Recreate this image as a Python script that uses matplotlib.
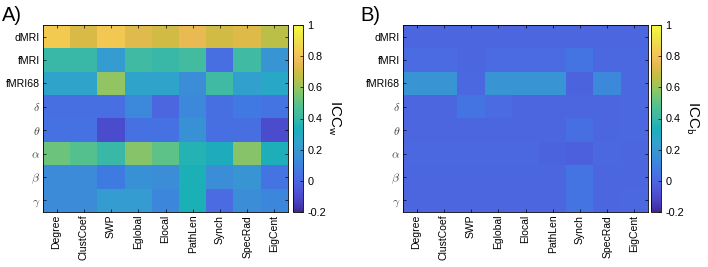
import numpy as np
import matplotlib
matplotlib.use("Agg")
import matplotlib.pyplot as plt
from matplotlib.colors import LinearSegmentedColormap

plt.rcParams['font.family'] = ['Liberation Sans', 'DejaVu Sans']
plt.rcParams['mathtext.fontset'] = 'cm'

measures = ["Degree", "ClustCoef", "SWP", "Eglobal", "Elocal", "PathLen", "Synch", "SpecRad", "EigCent"]
modalities = ["dMRI", "fMRI", "fMRI68", r"$\delta$", r"$\theta$", r"$\alpha$", r"$\beta$", r"$\gamma$"]

icc_w = np.array([
    [0.83, 0.72, 0.82, 0.74, 0.70, 0.76, 0.70, 0.73, 0.66],
    [0.40, 0.40, 0.22, 0.42, 0.40, 0.43, 0.03, 0.42, 0.18],
    [0.25, 0.25, 0.59, 0.25, 0.25, 0.15, 0.42, 0.24, 0.28],
    [0.03, 0.03, 0.03, 0.13, 0.00, 0.13, 0.03, 0.07, 0.05],
    [0.04, 0.04, -0.10, 0.04, 0.04, 0.17, 0.03, 0.03, -0.10],
    [0.53, 0.48, 0.40, 0.57, 0.50, 0.36, 0.32, 0.57, 0.33],
    [0.14, 0.14, 0.08, 0.17, 0.15, 0.34, 0.15, 0.18, 0.05],
    [0.14, 0.14, 0.22, 0.22, 0.12, 0.34, 0.02, 0.15, 0.12],
])

icc_b = np.array([
    [0.00, 0.00, 0.00, 0.00, 0.00, 0.00, 0.00, 0.00, 0.00],
    [0.02, 0.02, 0.00, 0.02, 0.02, 0.02, 0.05, 0.01, 0.01],
    [0.18, 0.18, 0.01, 0.18, 0.18, 0.18, -0.01, 0.13, 0.01],
    [0.00, 0.00, 0.05, 0.02, 0.00, 0.00, 0.00, 0.00, 0.01],
    [0.00, 0.00, 0.00, 0.00, 0.00, 0.00, 0.03, 0.00, 0.01],
    [0.01, 0.01, 0.01, 0.01, 0.01, -0.01, -0.02, 0.01, 0.00],
    [0.00, 0.00, 0.00, 0.00, 0.00, 0.00, 0.05, 0.00, 0.00],
    [0.00, 0.00, 0.00, 0.00, 0.00, 0.00, 0.05, 0.00, 0.01],
])

cbar_ticks = [-0.2, 0, 0.2, 0.4, 0.6, 0.8, 1]
cbar_ticklabels = ["-0.2", "0", "0.2", "0.4", "0.6", "0.8", "1"]

# parula (R2017a) colormap anchors, slightly desaturated to match the print
parula_anchors = np.array([
    (0.2422, 0.1504, 0.6603), (0.2647, 0.1978, 0.7952), (0.2783, 0.2559, 0.8991),
    (0.2813, 0.3006, 0.9414), (0.2795, 0.3447, 0.9717), (0.2699, 0.3892, 0.9906),
    (0.2440, 0.4358, 0.9988), (0.1963, 0.4847, 0.9892), (0.1786, 0.5289, 0.9682),
    (0.1687, 0.5703, 0.9359), (0.1460, 0.6091, 0.9079), (0.1248, 0.6459, 0.8883),
    (0.0952, 0.6798, 0.8598), (0.0297, 0.7082, 0.8163), (0.0067, 0.7312, 0.7660),
    (0.0964, 0.7500, 0.7120), (0.1717, 0.7670, 0.6554), (0.2161, 0.7843, 0.5923),
    (0.2906, 0.7973, 0.5188), (0.3909, 0.8029, 0.4354), (0.5044, 0.7993, 0.3480),
    (0.6174, 0.7876, 0.2612), (0.7242, 0.7698, 0.1910), (0.8203, 0.7498, 0.1535),
    (0.9035, 0.7330, 0.1774), (0.9728, 0.7298, 0.2394), (0.9970, 0.7659, 0.2199),
    (0.9892, 0.8136, 0.1885), (0.9676, 0.8639, 0.1643), (0.9597, 0.9135, 0.1423),
    (0.9691, 0.9606, 0.1064), (0.9769, 0.9839, 0.0805),
])
lum = (parula_anchors @ np.array([0.299, 0.587, 0.114]))[:, None]
desat = 0.2
parula_cols = np.clip(parula_anchors * (1 - desat) + lum * desat, 0, 1)
parula = LinearSegmentedColormap.from_list("parula", parula_cols, N=256)

W, H = 708, 267
fig = plt.figure(figsize=(W / 100, H / 100), dpi=100)

def fx(px):
    return px / W

def fy(py):
    return 1 - py / H

panels = [
    (icc_w, "A)", r"ICC$_\mathsf{w}$", 43, 293, 2),
    (icc_b, "B)", r"ICC$_\mathsf{b}$", 403, 651, 360),
]

for data, tag, clabel, axl, cbl, tagx in panels:
    ax = fig.add_axes([fx(axl), fy(212), fx(245), (212 - 25) / H])
    im = ax.imshow(data, cmap=parula, vmin=-0.2, vmax=1, aspect='auto', interpolation='nearest')
    ax.set_xticks(np.arange(len(measures)))
    ax.set_xticklabels(measures, rotation=90, fontsize=7.5)
    ax.set_yticks(np.arange(len(modalities)))
    ax.set_yticklabels(modalities, fontsize=7.6)
    for lab in ax.get_yticklabels()[3:]:
        lab.set_fontsize(8.5)
        lab.set_color('#444444')
    ax.tick_params(direction='in', length=2.5, width=0.5, top=True, right=True, pad=2)
    for sp in ax.spines.values():
        sp.set_linewidth(0.6)
    cax = fig.add_axes([fx(cbl), fy(212), fx(10), (212 - 25) / H])
    cb = fig.colorbar(im, cax=cax, ticks=cbar_ticks)
    cb.ax.set_yticklabels(cbar_ticklabels, fontsize=7.8)
    cb.ax.tick_params(direction='in', length=2, width=0.5, pad=3)
    cb.outline.set_linewidth(0.6)
    cb.set_label(clabel, rotation=270, fontsize=11, labelpad=12)
    fig.text(fx(tagx), fy(21), tag, fontsize=14.5, ha='left', va='baseline')

fig.savefig("out.png", dpi=100)
